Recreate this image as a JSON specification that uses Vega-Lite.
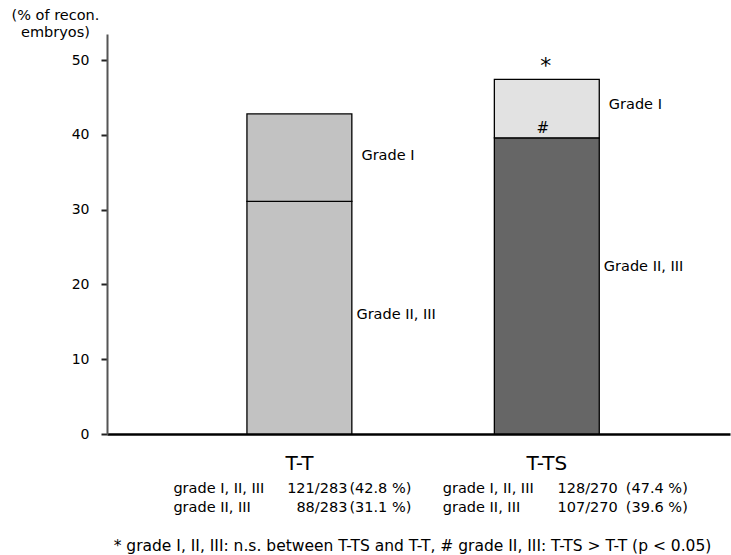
{
  "$schema": "https://vega.github.io/schema/vega-lite/v6.json",
  "width": 623,
  "height": 400,
  "autosize": "none",
  "padding": {"left": 107, "top": 34, "right": 1, "bottom": 121},
  "config": {"view": {"stroke": null}, "font": "DejaVu Sans", "text": {"font": "DejaVu Sans"}},
  "datasets": {
    "bars": [
      {"group": "T-T", "segment": "Grade II, III", "from": 0, "to": 31.1},
      {"group": "T-T", "segment": "Grade I", "from": 31.1, "to": 42.8},
      {"group": "T-TS", "segment": "Grade II, III", "from": 0, "to": 39.6},
      {"group": "T-TS", "segment": "Grade I", "from": 39.6, "to": 47.4}
    ],
    "labels": [
      {"group": "T-T", "text": "Grade I", "at": 37.2},
      {"group": "T-T", "text": "Grade II, III", "at": 15.9},
      {"group": "T-TS", "text": "Grade I", "at": 44.0},
      {"group": "T-TS", "text": "Grade II, III", "at": 22.3}
    ],
    "marks": [
      {"group": "T-TS", "text": "*", "at": 49.2, "size": 22},
      {"group": "T-TS", "text": "#", "at": 40.9, "size": 15}
    ],
    "table": [
      {"group": "T-T", "row": 1, "label": "grade I, II, III", "frac": "121/283", "pct": "(42.8 %)"},
      {"group": "T-T", "row": 2, "label": "grade II, III", "frac": "88/283", "pct": "(31.1 %)"},
      {"group": "T-TS", "row": 1, "label": "grade I, II, III", "frac": "128/270", "pct": "(47.4 %)"},
      {"group": "T-TS", "row": 2, "label": "grade II, III", "frac": "107/270", "pct": "(39.6 %)"}
    ]
  },
  "encoding": {
    "x": {
      "field": "group",
      "type": "nominal",
      "sort": ["T-T", "T-TS"],
      "scale": {"paddingInner": 0.576, "paddingOuter": 0.547, "align": 0.517},
      "axis": {
        "title": "* grade I, II, III: n.s. between T-TS and T-T, # grade II, III: T-TS > T-T (p < 0.05)",
        "titleFontSize": 15.5,
        "titleFontWeight": "normal",
        "titleColor": "#000",
        "titleX": 305,
        "titleY": 111,
        "titleBaseline": "middle",
        "titleAlign": "center",
        "labelAngle": 0,
        "labelFontSize": 20,
        "labelColor": "#000",
        "labelPadding": 19,
        "ticks": false,
        "tickSize": 0,
        "domainColor": "#000",
        "domainWidth": 2.5
      }
    }
  },
  "layer": [
    {
      "data": {"name": "bars"},
      "mark": {"type": "bar", "stroke": "#000", "strokeWidth": 1.3},
      "encoding": {
        "y": {
          "field": "from",
          "type": "quantitative",
          "scale": {"domain": [0, 53.48], "nice": false, "zero": false},
          "axis": {
            "title": ["(% of recon.", "embryos)"],
            "titleAngle": 0,
            "titleAlign": "center",
            "titleBaseline": "top",
            "titleX": -52,
            "titleY": -26,
            "titleFontSize": 14.5,
            "titleFontWeight": "normal",
            "titleColor": "#000",
            "titleLineHeight": 17,
            "values": [0, 10, 20, 30, 40, 50],
            "grid": false,
            "labelFontSize": 14,
            "labelColor": "#000",
            "labelPadding": 12,
            "tickSize": 6,
            "tickWidth": 2,
            "tickColor": "#222",
            "domainColor": "#555",
            "domainWidth": 2
          }
        },
        "y2": {"field": "to"},
        "fill": {
          "condition": [
            {"test": "datum.group === 'T-TS' && datum.segment === 'Grade II, III'", "value": "#666666"},
            {"test": "datum.group === 'T-TS' && datum.segment === 'Grade I'", "value": "#e2e2e2"}
          ],
          "value": "#c2c2c2"
        }
      }
    },
    {
      "data": {"name": "labels"},
      "mark": {"type": "text", "align": "left", "baseline": "middle", "fontSize": 14.5, "color": "#000",
        "dx": {"expr": "datum.text === 'Grade I' ? 62 : 57"}},
      "encoding": {
        "y": {"field": "at", "type": "quantitative"},
        "text": {"field": "text"}
      }
    },
    {
      "data": {"name": "marks"},
      "mark": {"type": "text", "align": "center", "baseline": "middle", "color": "#000",
        "dx": {"expr": "datum.text === '*' ? -1 : -4"},
        "fontSize": {"expr": "datum.size"}},
      "encoding": {
        "y": {"field": "at", "type": "quantitative"},
        "text": {"field": "text"}
      }
    },
    {
      "data": {"name": "table"},
      "mark": {"type": "text", "align": "left", "baseline": "middle", "fontSize": 14.5, "color": "#000",
        "dx": {"expr": "datum.group === 'T-T' ? -126 : -104"},
        "dy": {"expr": "datum.row === 1 ? 0 : 19"}},
      "encoding": {
        "y": {"datum": -7.4},
        "text": {"field": "label"}
      }
    },
    {
      "data": {"name": "table"},
      "mark": {"type": "text", "align": "right", "baseline": "middle", "fontSize": 14.5, "color": "#000",
        "dx": {"expr": "datum.group === 'T-T' ? 48 : 71"},
        "dy": {"expr": "datum.row === 1 ? 0 : 19"}},
      "encoding": {
        "y": {"datum": -7.4},
        "text": {"field": "frac"}
      }
    },
    {
      "data": {"name": "table"},
      "mark": {"type": "text", "align": "left", "baseline": "middle", "fontSize": 14.5, "color": "#000",
        "dx": {"expr": "datum.group === 'T-T' ? 50 : 79"},
        "dy": {"expr": "datum.row === 1 ? 0 : 19"}},
      "encoding": {
        "y": {"datum": -7.4},
        "text": {"field": "pct"}
      }
    }
  ]
}
